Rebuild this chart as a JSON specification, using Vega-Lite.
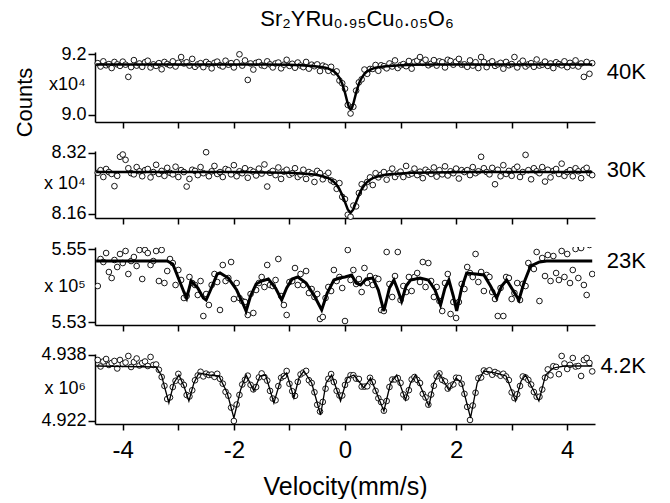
{
"$schema": "https://vega.github.io/schema/vega-lite/v6.json",
"padding": {"left": 13, "top": 8, "right": 5, "bottom": 0},
"title": {"text": "Sr₂YRu₀.₉₅Cu₀.₀₅O₆", "fontSize": 22, "fontWeight": "normal", "font": "Liberation Sans", "anchor": "middle", "frame": "group", "offset": 14, "dx": 12, "color": "black"},
"bounds": "flush",
"spacing": 29,
"datasets": {
"s40": [{"v":-4.45,"c":9.170},{"v":-4.4,"c":9.159},{"v":-4.35,"c":9.176},{"v":-4.3,"c":9.163},{"v":-4.25,"c":9.167},{"v":-4.2,"c":9.154},{"v":-4.15,"c":9.174},{"v":-4.1,"c":9.166},{"v":-4.05,"c":9.161},{"v":-4,"c":9.175},{"v":-3.95,"c":9.165},{"v":-3.9,"c":9.125},{"v":-3.85,"c":9.157},{"v":-3.8,"c":9.180},{"v":-3.75,"c":9.162},{"v":-3.7,"c":9.169},{"v":-3.65,"c":9.158},{"v":-3.6,"c":9.173},{"v":-3.55,"c":9.178},{"v":-3.5,"c":9.156},{"v":-3.45,"c":9.166},{"v":-3.4,"c":9.161},{"v":-3.35,"c":9.170},{"v":-3.3,"c":9.150},{"v":-3.25,"c":9.174},{"v":-3.2,"c":9.167},{"v":-3.15,"c":9.163},{"v":-3.1,"c":9.176},{"v":-3.05,"c":9.159},{"v":-3,"c":9.171},{"v":-2.95,"c":9.190},{"v":-2.9,"c":9.169},{"v":-2.85,"c":9.173},{"v":-2.8,"c":9.162},{"v":-2.75,"c":9.184},{"v":-2.7,"c":9.158},{"v":-2.65,"c":9.166},{"v":-2.6,"c":9.170},{"v":-2.55,"c":9.157},{"v":-2.5,"c":9.174},{"v":-2.45,"c":9.167},{"v":-2.4,"c":9.153},{"v":-2.35,"c":9.171},{"v":-2.3,"c":9.175},{"v":-2.25,"c":9.163},{"v":-2.2,"c":9.159},{"v":-2.15,"c":9.178},{"v":-2.1,"c":9.165},{"v":-2.05,"c":9.170},{"v":-2,"c":9.156},{"v":-1.95,"c":9.173},{"v":-1.9,"c":9.199},{"v":-1.85,"c":9.162},{"v":-1.8,"c":9.179},{"v":-1.75,"c":9.115},{"v":-1.7,"c":9.169},{"v":-1.65,"c":9.149},{"v":-1.6,"c":9.171},{"v":-1.55,"c":9.174},{"v":-1.5,"c":9.163},{"v":-1.45,"c":9.161},{"v":-1.4,"c":9.176},{"v":-1.35,"c":9.166},{"v":-1.3,"c":9.156},{"v":-1.25,"c":9.169},{"v":-1.2,"c":9.172},{"v":-1.15,"c":9.153},{"v":-1.1,"c":9.165},{"v":-1.05,"c":9.181},{"v":-1,"c":9.161},{"v":-0.95,"c":9.168},{"v":-0.9,"c":9.155},{"v":-0.85,"c":9.172},{"v":-0.8,"c":9.162},{"v":-0.75,"c":9.157},{"v":-0.7,"c":9.174},{"v":-0.65,"c":9.152},{"v":-0.6,"c":9.165},{"v":-0.55,"c":9.160},{"v":-0.5,"c":9.166},{"v":-0.45,"c":9.144},{"v":-0.4,"c":9.162},{"v":-0.35,"c":9.158},{"v":-0.3,"c":9.145},{"v":-0.25,"c":9.158},{"v":-0.2,"c":9.140},{"v":-0.15,"c":9.143},{"v":-0.1,"c":9.113},{"v":-0.05,"c":9.104},{"v":0,"c":9.086},{"v":0.05,"c":9.033},{"v":0.1,"c":9.005},{"v":0.15,"c":9.027},{"v":0.2,"c":9.080},{"v":0.25,"c":9.107},{"v":0.3,"c":9.117},{"v":0.35,"c":9.149},{"v":0.4,"c":9.135},{"v":0.45,"c":9.151},{"v":0.5,"c":9.151},{"v":0.55,"c":9.164},{"v":0.6,"c":9.145},{"v":0.65,"c":9.163},{"v":0.7,"c":9.160},{"v":0.75,"c":9.153},{"v":0.8,"c":9.169},{"v":0.85,"c":9.159},{"v":0.9,"c":9.179},{"v":0.95,"c":9.154},{"v":1,"c":9.163},{"v":1.05,"c":9.167},{"v":1.1,"c":9.160},{"v":1.15,"c":9.177},{"v":1.2,"c":9.152},{"v":1.25,"c":9.174},{"v":1.3,"c":9.178},{"v":1.35,"c":9.190},{"v":1.4,"c":9.171},{"v":1.45,"c":9.181},{"v":1.5,"c":9.163},{"v":1.55,"c":9.168},{"v":1.6,"c":9.180},{"v":1.65,"c":9.162},{"v":1.7,"c":9.176},{"v":1.75,"c":9.173},{"v":1.8,"c":9.156},{"v":1.85,"c":9.181},{"v":1.9,"c":9.177},{"v":1.95,"c":9.165},{"v":2,"c":9.175},{"v":2.05,"c":9.184},{"v":2.1,"c":9.165},{"v":2.15,"c":9.166},{"v":2.2,"c":9.158},{"v":2.25,"c":9.179},{"v":2.3,"c":9.162},{"v":2.35,"c":9.173},{"v":2.4,"c":9.154},{"v":2.45,"c":9.190},{"v":2.5,"c":9.174},{"v":2.55,"c":9.157},{"v":2.6,"c":9.170},{"v":2.65,"c":9.176},{"v":2.7,"c":9.161},{"v":2.75,"c":9.166},{"v":2.8,"c":9.171},{"v":2.85,"c":9.152},{"v":2.9,"c":9.174},{"v":2.95,"c":9.163},{"v":3,"c":9.167},{"v":3.05,"c":9.190},{"v":3.1,"c":9.156},{"v":3.15,"c":9.169},{"v":3.2,"c":9.178},{"v":3.25,"c":9.159},{"v":3.3,"c":9.166},{"v":3.35,"c":9.170},{"v":3.4,"c":9.158},{"v":3.45,"c":9.182},{"v":3.5,"c":9.162},{"v":3.55,"c":9.165},{"v":3.6,"c":9.175},{"v":3.65,"c":9.161},{"v":3.7,"c":9.169},{"v":3.75,"c":9.154},{"v":3.8,"c":9.173},{"v":3.85,"c":9.167},{"v":3.9,"c":9.163},{"v":3.95,"c":9.176},{"v":4,"c":9.157},{"v":4.05,"c":9.171},{"v":4.1,"c":9.162},{"v":4.15,"c":9.179},{"v":4.2,"c":9.159},{"v":4.25,"c":9.169},{"v":4.3,"c":9.125},{"v":4.35,"c":9.174},{"v":4.4,"c":9.135},{"v":4.45,"c":9.170}],
"f40": [{"v":-4.48,"c":9.166},{"v":-1.45,"c":9.166},{"v":-1.0,"c":9.165},{"v":-0.8,"c":9.163},{"v":-0.6,"c":9.161},{"v":-0.5,"c":9.159},{"v":-0.4,"c":9.157},{"v":-0.35,"c":9.155},{"v":-0.3,"c":9.152},{"v":-0.25,"c":9.148},{"v":-0.2,"c":9.143},{"v":-0.15,"c":9.135},{"v":-0.1,"c":9.122},{"v":-0.05,"c":9.103},{"v":0,"c":9.073},{"v":0.05,"c":9.037},{"v":0.075,"c":9.023},{"v":0.1,"c":9.018},{"v":0.125,"c":9.023},{"v":0.15,"c":9.037},{"v":0.2,"c":9.073},{"v":0.25,"c":9.103},{"v":0.3,"c":9.122},{"v":0.35,"c":9.135},{"v":0.4,"c":9.143},{"v":0.45,"c":9.148},{"v":0.5,"c":9.152},{"v":0.55,"c":9.155},{"v":0.6,"c":9.157},{"v":0.7,"c":9.159},{"v":0.8,"c":9.161},{"v":1.0,"c":9.163},{"v":1.2,"c":9.165},{"v":1.65,"c":9.166},{"v":4.45,"c":9.166}],
"s30": [{"v":-4.45,"c":8.268},{"v":-4.4,"c":8.275},{"v":-4.35,"c":8.257},{"v":-4.3,"c":8.278},{"v":-4.25,"c":8.270},{"v":-4.2,"c":8.265},{"v":-4.15,"c":8.233},{"v":-4.1,"c":8.260},{"v":-4.05,"c":8.310},{"v":-4,"c":8.316},{"v":-3.95,"c":8.302},{"v":-3.9,"c":8.280},{"v":-3.85,"c":8.267},{"v":-3.8,"c":8.264},{"v":-3.75,"c":8.283},{"v":-3.7,"c":8.272},{"v":-3.65,"c":8.259},{"v":-3.6,"c":8.275},{"v":-3.55,"c":8.278},{"v":-3.5,"c":8.256},{"v":-3.45,"c":8.270},{"v":-3.4,"c":8.289},{"v":-3.35,"c":8.265},{"v":-3.3,"c":8.273},{"v":-3.25,"c":8.260},{"v":-3.2,"c":8.281},{"v":-3.15,"c":8.268},{"v":-3.1,"c":8.264},{"v":-3.05,"c":8.284},{"v":-3,"c":8.257},{"v":-2.95,"c":8.275},{"v":-2.9,"c":8.270},{"v":-2.85,"c":8.232},{"v":-2.8,"c":8.252},{"v":-2.75,"c":8.276},{"v":-2.7,"c":8.273},{"v":-2.65,"c":8.262},{"v":-2.6,"c":8.283},{"v":-2.55,"c":8.267},{"v":-2.5,"c":8.322},{"v":-2.45,"c":8.259},{"v":-2.4,"c":8.272},{"v":-2.35,"c":8.286},{"v":-2.3,"c":8.265},{"v":-2.25,"c":8.270},{"v":-2.2,"c":8.257},{"v":-2.15,"c":8.278},{"v":-2.1,"c":8.275},{"v":-2.05,"c":8.264},{"v":-2,"c":8.288},{"v":-1.95,"c":8.259},{"v":-1.9,"c":8.272},{"v":-1.85,"c":8.267},{"v":-1.8,"c":8.280},{"v":-1.75,"c":8.255},{"v":-1.7,"c":8.275},{"v":-1.65,"c":8.271},{"v":-1.6,"c":8.261},{"v":-1.55,"c":8.279},{"v":-1.5,"c":8.266},{"v":-1.45,"c":8.290},{"v":-1.4,"c":8.232},{"v":-1.35,"c":8.268},{"v":-1.3,"c":8.273},{"v":-1.25,"c":8.262},{"v":-1.2,"c":8.282},{"v":-1.15,"c":8.252},{"v":-1.1,"c":8.271},{"v":-1.05,"c":8.276},{"v":-1,"c":8.263},{"v":-0.95,"c":8.267},{"v":-0.9,"c":8.280},{"v":-0.85,"c":8.257},{"v":-0.8,"c":8.263},{"v":-0.75,"c":8.276},{"v":-0.7,"c":8.252},{"v":-0.65,"c":8.270},{"v":-0.6,"c":8.266},{"v":-0.55,"c":8.244},{"v":-0.5,"c":8.273},{"v":-0.45,"c":8.267},{"v":-0.4,"c":8.251},{"v":-0.35,"c":8.260},{"v":-0.3,"c":8.268},{"v":-0.25,"c":8.248},{"v":-0.2,"c":8.244},{"v":-0.15,"c":8.226},{"v":-0.1,"c":8.241},{"v":-0.05,"c":8.205},{"v":0,"c":8.199},{"v":0.05,"c":8.158},{"v":0.1,"c":8.153},{"v":0.15,"c":8.182},{"v":0.2,"c":8.180},{"v":0.25,"c":8.215},{"v":0.3,"c":8.238},{"v":0.35,"c":8.230},{"v":0.4,"c":8.244},{"v":0.45,"c":8.256},{"v":0.5,"c":8.236},{"v":0.55,"c":8.267},{"v":0.6,"c":8.256},{"v":0.65,"c":8.263},{"v":0.7,"c":8.270},{"v":0.75,"c":8.250},{"v":0.8,"c":8.267},{"v":0.85,"c":8.279},{"v":0.9,"c":8.257},{"v":0.95,"c":8.266},{"v":1,"c":8.271},{"v":1.05,"c":8.257},{"v":1.1,"c":8.286},{"v":1.15,"c":8.263},{"v":1.2,"c":8.266},{"v":1.25,"c":8.279},{"v":1.3,"c":8.262},{"v":1.35,"c":8.271},{"v":1.4,"c":8.254},{"v":1.45,"c":8.276},{"v":1.5,"c":8.270},{"v":1.55,"c":8.265},{"v":1.6,"c":8.282},{"v":1.65,"c":8.258},{"v":1.7,"c":8.275},{"v":1.75,"c":8.264},{"v":1.8,"c":8.285},{"v":1.85,"c":8.261},{"v":1.9,"c":8.272},{"v":1.95,"c":8.267},{"v":2,"c":8.279},{"v":2.05,"c":8.253},{"v":2.1,"c":8.275},{"v":2.15,"c":8.270},{"v":2.2,"c":8.275},{"v":2.25,"c":8.262},{"v":2.3,"c":8.283},{"v":2.35,"c":8.267},{"v":2.4,"c":8.272},{"v":2.45,"c":8.310},{"v":2.5,"c":8.280},{"v":2.55,"c":8.270},{"v":2.6,"c":8.264},{"v":2.65,"c":8.281},{"v":2.7,"c":8.238},{"v":2.75,"c":8.276},{"v":2.8,"c":8.259},{"v":2.85,"c":8.288},{"v":2.9,"c":8.265},{"v":2.95,"c":8.273},{"v":3,"c":8.260},{"v":3.05,"c":8.278},{"v":3.1,"c":8.284},{"v":3.15,"c":8.257},{"v":3.2,"c":8.270},{"v":3.25,"c":8.315},{"v":3.3,"c":8.275},{"v":3.35,"c":8.251},{"v":3.4,"c":8.280},{"v":3.45,"c":8.272},{"v":3.5,"c":8.267},{"v":3.55,"c":8.283},{"v":3.6,"c":8.245},{"v":3.65,"c":8.276},{"v":3.7,"c":8.256},{"v":3.75,"c":8.273},{"v":3.8,"c":8.278},{"v":3.85,"c":8.265},{"v":3.9,"c":8.292},{"v":3.95,"c":8.260},{"v":4,"c":8.270},{"v":4.05,"c":8.275},{"v":4.1,"c":8.259},{"v":4.15,"c":8.280},{"v":4.2,"c":8.272},{"v":4.25,"c":8.254},{"v":4.3,"c":8.276},{"v":4.35,"c":8.281},{"v":4.4,"c":8.267},{"v":4.45,"c":8.262}],
"f30": [{"v":-4.48,"c":8.270},{"v":-2.0,"c":8.270},{"v":-1.4,"c":8.269},{"v":-1.0,"c":8.268},{"v":-0.8,"c":8.266},{"v":-0.6,"c":8.264},{"v":-0.5,"c":8.262},{"v":-0.4,"c":8.259},{"v":-0.3,"c":8.254},{"v":-0.25,"c":8.250},{"v":-0.2,"c":8.244},{"v":-0.15,"c":8.236},{"v":-0.1,"c":8.225},{"v":-0.05,"c":8.210},{"v":0,"c":8.191},{"v":0.05,"c":8.172},{"v":0.1,"c":8.163},{"v":0.15,"c":8.172},{"v":0.2,"c":8.191},{"v":0.25,"c":8.210},{"v":0.3,"c":8.225},{"v":0.35,"c":8.236},{"v":0.4,"c":8.244},{"v":0.45,"c":8.250},{"v":0.5,"c":8.254},{"v":0.6,"c":8.259},{"v":0.7,"c":8.262},{"v":0.8,"c":8.264},{"v":1.0,"c":8.266},{"v":1.2,"c":8.268},{"v":1.6,"c":8.269},{"v":2.2,"c":8.270},{"v":4.45,"c":8.270}],
"s23": [{"v":-4.45,"c":5.53986},{"v":-4.4,"c":5.54726},{"v":-4.35,"c":5.54644},{"v":-4.3,"c":5.54890},{"v":-4.25,"c":5.54370},{"v":-4.2,"c":5.54205},{"v":-4.15,"c":5.54699},{"v":-4.1,"c":5.54507},{"v":-4.05,"c":5.54863},{"v":-4,"c":5.54616},{"v":-3.95,"c":5.54945},{"v":-3.9,"c":5.54315},{"v":-3.85,"c":5.54671},{"v":-3.8,"c":5.54781},{"v":-3.75,"c":5.54534},{"v":-3.7,"c":5.54973},{"v":-3.65,"c":5.54178},{"v":-3.6,"c":5.54973},{"v":-3.55,"c":5.54890},{"v":-3.5,"c":5.54562},{"v":-3.45,"c":5.54671},{"v":-3.4,"c":5.54945},{"v":-3.35,"c":5.54123},{"v":-3.3,"c":5.54973},{"v":-3.25,"c":5.54068},{"v":-3.2,"c":5.54397},{"v":-3.15,"c":5.54726},{"v":-3.1,"c":5.54616},{"v":-3.05,"c":5.54014},{"v":-3,"c":5.54425},{"v":-2.95,"c":5.54151},{"v":-2.9,"c":5.53658},{"v":-2.85,"c":5.53712},{"v":-2.8,"c":5.54233},{"v":-2.75,"c":5.54068},{"v":-2.7,"c":5.54014},{"v":-2.65,"c":5.53740},{"v":-2.6,"c":5.54123},{"v":-2.55,"c":5.53164},{"v":-2.5,"c":5.53767},{"v":-2.45,"c":5.53466},{"v":-2.4,"c":5.54014},{"v":-2.35,"c":5.54315},{"v":-2.3,"c":5.54096},{"v":-2.25,"c":5.53329},{"v":-2.2,"c":5.54562},{"v":-2.15,"c":5.54123},{"v":-2.1,"c":5.54205},{"v":-2.05,"c":5.54644},{"v":-2,"c":5.53630},{"v":-1.95,"c":5.54068},{"v":-1.9,"c":5.53658},{"v":-1.85,"c":5.53575},{"v":-1.8,"c":5.53548},{"v":-1.75,"c":5.53192},{"v":-1.7,"c":5.53767},{"v":-1.65,"c":5.53247},{"v":-1.6,"c":5.53877},{"v":-1.55,"c":5.54068},{"v":-1.5,"c":5.54233},{"v":-1.45,"c":5.53959},{"v":-1.4,"c":5.54562},{"v":-1.35,"c":5.54014},{"v":-1.3,"c":5.53986},{"v":-1.25,"c":5.54151},{"v":-1.2,"c":5.54726},{"v":-1.15,"c":5.53712},{"v":-1.1,"c":5.53466},{"v":-1.05,"c":5.53192},{"v":-1,"c":5.54096},{"v":-0.95,"c":5.54123},{"v":-0.9,"c":5.54479},{"v":-0.85,"c":5.54014},{"v":-0.8,"c":5.54315},{"v":-0.75,"c":5.54014},{"v":-0.7,"c":5.54397},{"v":-0.65,"c":5.53795},{"v":-0.6,"c":5.53904},{"v":-0.55,"c":5.53685},{"v":-0.5,"c":5.53767},{"v":-0.45,"c":5.53082},{"v":-0.4,"c":5.53137},{"v":-0.35,"c":5.53658},{"v":-0.3,"c":5.53959},{"v":-0.25,"c":5.53849},{"v":-0.2,"c":5.54425},{"v":-0.15,"c":5.54123},{"v":-0.1,"c":5.54233},{"v":-0.05,"c":5.53932},{"v":0,"c":5.53027},{"v":0.05,"c":5.54973},{"v":0.1,"c":5.54151},{"v":0.15,"c":5.54425},{"v":0.2,"c":5.54041},{"v":0.25,"c":5.54178},{"v":0.3,"c":5.53822},{"v":0.35,"c":5.54479},{"v":0.4,"c":5.54068},{"v":0.45,"c":5.54260},{"v":0.5,"c":5.54014},{"v":0.55,"c":5.54205},{"v":0.6,"c":5.54178},{"v":0.65,"c":5.53329},{"v":0.7,"c":5.53301},{"v":0.75,"c":5.54918},{"v":0.8,"c":5.54041},{"v":0.85,"c":5.53685},{"v":0.9,"c":5.54260},{"v":0.95,"c":5.54918},{"v":1,"c":5.53603},{"v":1.05,"c":5.53986},{"v":1.1,"c":5.53822},{"v":1.15,"c":5.54233},{"v":1.2,"c":5.53849},{"v":1.25,"c":5.54233},{"v":1.3,"c":5.54342},{"v":1.35,"c":5.54096},{"v":1.4,"c":5.54644},{"v":1.45,"c":5.53959},{"v":1.5,"c":5.54616},{"v":1.55,"c":5.54123},{"v":1.6,"c":5.53685},{"v":1.65,"c":5.53959},{"v":1.7,"c":5.53575},{"v":1.75,"c":5.53301},{"v":1.8,"c":5.54068},{"v":1.85,"c":5.54315},{"v":1.9,"c":5.53219},{"v":1.95,"c":5.53548},{"v":2,"c":5.53110},{"v":2.05,"c":5.53548},{"v":2.1,"c":5.54041},{"v":2.15,"c":5.53904},{"v":2.2,"c":5.54507},{"v":2.25,"c":5.54342},{"v":2.3,"c":5.54233},{"v":2.35,"c":5.54863},{"v":2.4,"c":5.54096},{"v":2.45,"c":5.54370},{"v":2.5,"c":5.53849},{"v":2.55,"c":5.54288},{"v":2.6,"c":5.54233},{"v":2.65,"c":5.53822},{"v":2.7,"c":5.53630},{"v":2.75,"c":5.53164},{"v":2.8,"c":5.53932},{"v":2.85,"c":5.53164},{"v":2.9,"c":5.54233},{"v":2.95,"c":5.54205},{"v":3,"c":5.53630},{"v":3.05,"c":5.53795},{"v":3.1,"c":5.54068},{"v":3.15,"c":5.53603},{"v":3.2,"c":5.54041},{"v":3.25,"c":5.53986},{"v":3.3,"c":5.54616},{"v":3.35,"c":5.54507},{"v":3.4,"c":5.54452},{"v":3.45,"c":5.54918},{"v":3.5,"c":5.53575},{"v":3.55,"c":5.54753},{"v":3.6,"c":5.54260},{"v":3.65,"c":5.54836},{"v":3.7,"c":5.54123},{"v":3.75,"c":5.54808},{"v":3.8,"c":5.54342},{"v":3.85,"c":5.54151},{"v":3.9,"c":5.54945},{"v":3.95,"c":5.54233},{"v":4,"c":5.54863},{"v":4.05,"c":5.54068},{"v":4.1,"c":5.54425},{"v":4.15,"c":5.55000},{"v":4.2,"c":5.54205},{"v":4.25,"c":5.55027},{"v":4.3,"c":5.54014},{"v":4.35,"c":5.53740},{"v":4.4,"c":5.55110},{"v":4.45,"c":5.54315}],
"f23": [{"v":-4.48,"c":5.54671},{"v":-3.2,"c":5.54671},{"v":-3.1,"c":5.54589},{"v":-3.0,"c":5.54205},{"v":-2.9,"c":5.53822},{"v":-2.85,"c":5.53658},{"v":-2.77,"c":5.54123},{"v":-2.65,"c":5.53932},{"v":-2.55,"c":5.53658},{"v":-2.5,"c":5.53603},{"v":-2.42,"c":5.53877},{"v":-2.3,"c":5.54315},{"v":-2.25,"c":5.54342},{"v":-2.1,"c":5.54205},{"v":-1.95,"c":5.53877},{"v":-1.85,"c":5.53548},{"v":-1.78,"c":5.53301},{"v":-1.7,"c":5.53712},{"v":-1.6,"c":5.54041},{"v":-1.5,"c":5.54123},{"v":-1.38,"c":5.54178},{"v":-1.25,"c":5.53932},{"v":-1.14,"c":5.53603},{"v":-1.05,"c":5.53932},{"v":-0.95,"c":5.54178},{"v":-0.85,"c":5.54233},{"v":-0.7,"c":5.54068},{"v":-0.55,"c":5.53712},{"v":-0.42,"c":5.53329},{"v":-0.32,"c":5.53795},{"v":-0.2,"c":5.54151},{"v":-0.1,"c":5.54205},{"v":0,"c":5.54233},{"v":0.12,"c":5.54288},{"v":0.2,"c":5.54068},{"v":0.28,"c":5.54014},{"v":0.38,"c":5.54178},{"v":0.5,"c":5.54205},{"v":0.6,"c":5.53877},{"v":0.7,"c":5.53301},{"v":0.8,"c":5.53932},{"v":0.88,"c":5.54151},{"v":0.95,"c":5.53877},{"v":1.02,"c":5.53575},{"v":1.1,"c":5.53986},{"v":1.18,"c":5.54151},{"v":1.35,"c":5.54205},{"v":1.5,"c":5.54151},{"v":1.62,"c":5.53877},{"v":1.72,"c":5.53466},{"v":1.8,"c":5.53932},{"v":1.87,"c":5.54151},{"v":1.95,"c":5.53712},{"v":2.01,"c":5.53301},{"v":2.1,"c":5.53932},{"v":2.19,"c":5.54342},{"v":2.35,"c":5.54315},{"v":2.5,"c":5.54288},{"v":2.62,"c":5.53986},{"v":2.73,"c":5.53658},{"v":2.82,"c":5.53986},{"v":2.91,"c":5.54151},{"v":3.02,"c":5.53877},{"v":3.13,"c":5.53603},{"v":3.22,"c":5.54068},{"v":3.34,"c":5.54534},{"v":3.5,"c":5.54644},{"v":3.63,"c":5.54671},{"v":4.45,"c":5.54671}],
"s4": [{"v":-4.45,"c":4.93679},{"v":-4.4,"c":4.93521},{"v":-4.35,"c":4.93642},{"v":-4.3,"c":4.93703},{"v":-4.25,"c":4.93558},{"v":-4.2,"c":4.93606},{"v":-4.15,"c":4.93655},{"v":-4.1,"c":4.93473},{"v":-4.05,"c":4.93679},{"v":-4,"c":4.93582},{"v":-3.95,"c":4.93618},{"v":-3.9,"c":4.93776},{"v":-3.85,"c":4.93509},{"v":-3.8,"c":4.93630},{"v":-3.75,"c":4.93715},{"v":-3.7,"c":4.93545},{"v":-3.65,"c":4.93606},{"v":-3.6,"c":4.93642},{"v":-3.55,"c":4.93533},{"v":-3.5,"c":4.93752},{"v":-3.45,"c":4.93558},{"v":-3.4,"c":4.93570},{"v":-3.35,"c":4.93442},{"v":-3.3,"c":4.93267},{"v":-3.25,"c":4.93051},{"v":-3.2,"c":4.92733},{"v":-3.15,"c":4.92772},{"v":-3.1,"c":4.93022},{"v":-3.05,"c":4.93175},{"v":-3,"c":4.93342},{"v":-2.95,"c":4.93155},{"v":-2.9,"c":4.93073},{"v":-2.85,"c":4.92830},{"v":-2.8,"c":4.92794},{"v":-2.75,"c":4.92945},{"v":-2.7,"c":4.93187},{"v":-2.65,"c":4.93304},{"v":-2.6,"c":4.93393},{"v":-2.55,"c":4.93281},{"v":-2.5,"c":4.93348},{"v":-2.45,"c":4.93315},{"v":-2.4,"c":4.93326},{"v":-2.35,"c":4.93270},{"v":-2.3,"c":4.93344},{"v":-2.25,"c":4.93223},{"v":-2.2,"c":4.93105},{"v":-2.15,"c":4.92907},{"v":-2.1,"c":4.92813},{"v":-2.05,"c":4.92525},{"v":-2,"c":4.92200},{"v":-1.95,"c":4.92599},{"v":-1.9,"c":4.92832},{"v":-1.85,"c":4.93085},{"v":-1.8,"c":4.93200},{"v":-1.75,"c":4.93299},{"v":-1.7,"c":4.93076},{"v":-1.65,"c":4.92966},{"v":-1.6,"c":4.93024},{"v":-1.55,"c":4.93256},{"v":-1.5,"c":4.93353},{"v":-1.45,"c":4.93262},{"v":-1.4,"c":4.93179},{"v":-1.35,"c":4.92930},{"v":-1.3,"c":4.92744},{"v":-1.25,"c":4.92704},{"v":-1.2,"c":4.93046},{"v":-1.15,"c":4.93249},{"v":-1.1,"c":4.93291},{"v":-1.05,"c":4.93412},{"v":-1,"c":4.93101},{"v":-0.95,"c":4.92922},{"v":-0.9,"c":4.92810},{"v":-0.85,"c":4.93148},{"v":-0.8,"c":4.93329},{"v":-0.75,"c":4.93375},{"v":-0.7,"c":4.93415},{"v":-0.65,"c":4.93189},{"v":-0.6,"c":4.93121},{"v":-0.55,"c":4.92897},{"v":-0.5,"c":4.92594},{"v":-0.45,"c":4.92430},{"v":-0.4,"c":4.92662},{"v":-0.35,"c":4.92983},{"v":-0.3,"c":4.93223},{"v":-0.25,"c":4.93338},{"v":-0.2,"c":4.93145},{"v":-0.15,"c":4.92931},{"v":-0.1,"c":4.92818},{"v":-0.05,"c":4.92818},{"v":0,"c":4.93074},{"v":0.05,"c":4.93200},{"v":0.1,"c":4.93309},{"v":0.15,"c":4.93309},{"v":0.2,"c":4.93227},{"v":0.25,"c":4.93218},{"v":0.3,"c":4.93034},{"v":0.35,"c":4.93032},{"v":0.4,"c":4.93042},{"v":0.45,"c":4.93247},{"v":0.5,"c":4.93145},{"v":0.55,"c":4.92930},{"v":0.6,"c":4.92752},{"v":0.65,"c":4.92658},{"v":0.7,"c":4.92449},{"v":0.75,"c":4.92684},{"v":0.8,"c":4.93025},{"v":0.85,"c":4.93205},{"v":0.9,"c":4.93207},{"v":0.95,"c":4.93240},{"v":1,"c":4.93124},{"v":1.05,"c":4.92842},{"v":1.1,"c":4.92767},{"v":1.15,"c":4.92947},{"v":1.2,"c":4.93207},{"v":1.25,"c":4.93265},{"v":1.3,"c":4.93196},{"v":1.35,"c":4.93120},{"v":1.4,"c":4.92859},{"v":1.45,"c":4.92770},{"v":1.5,"c":4.92595},{"v":1.55,"c":4.92841},{"v":1.6,"c":4.93055},{"v":1.65,"c":4.93281},{"v":1.7,"c":4.93354},{"v":1.75,"c":4.93195},{"v":1.8,"c":4.93160},{"v":1.85,"c":4.92985},{"v":1.9,"c":4.93056},{"v":1.95,"c":4.93088},{"v":2,"c":4.93249},{"v":2.05,"c":4.93242},{"v":2.1,"c":4.93103},{"v":2.15,"c":4.92857},{"v":2.2,"c":4.92542},{"v":2.25,"c":4.92224},{"v":2.3,"c":4.92575},{"v":2.35,"c":4.92885},{"v":2.4,"c":4.93236},{"v":2.45,"c":4.93255},{"v":2.5,"c":4.93424},{"v":2.55,"c":4.93394},{"v":2.6,"c":4.93430},{"v":2.65,"c":4.93321},{"v":2.7,"c":4.93388},{"v":2.75,"c":4.93352},{"v":2.8,"c":4.93297},{"v":2.85,"c":4.93345},{"v":2.9,"c":4.93279},{"v":2.95,"c":4.93190},{"v":3,"c":4.92892},{"v":3.05,"c":4.92755},{"v":3.1,"c":4.92849},{"v":3.15,"c":4.93049},{"v":3.2,"c":4.93279},{"v":3.25,"c":4.93255},{"v":3.3,"c":4.93196},{"v":3.35,"c":4.93084},{"v":3.4,"c":4.92903},{"v":3.45,"c":4.92789},{"v":3.5,"c":4.92787},{"v":3.55,"c":4.92964},{"v":3.6,"c":4.93250},{"v":3.65,"c":4.93451},{"v":3.7,"c":4.93308},{"v":3.75,"c":4.93528},{"v":3.8,"c":4.93512},{"v":3.85,"c":4.93335},{"v":3.9,"c":4.93776},{"v":3.95,"c":4.93592},{"v":4,"c":4.93461},{"v":4.05,"c":4.93562},{"v":4.1,"c":4.93727},{"v":4.15,"c":4.93519},{"v":4.2,"c":4.93533},{"v":4.25,"c":4.93291},{"v":4.3,"c":4.93679},{"v":4.35,"c":4.93727},{"v":4.4,"c":4.93606},{"v":4.45,"c":4.93402}],
"f4": [{"v":-4.48,"c":4.93533},{"v":-3.4,"c":4.93509},{"v":-3.3,"c":4.93291},{"v":-3.17,"c":4.92636},{"v":-3.08,"c":4.93121},{"v":-2.99,"c":4.93315},{"v":-2.9,"c":4.93048},{"v":-2.81,"c":4.92685},{"v":-2.72,"c":4.93121},{"v":-2.63,"c":4.93364},{"v":-2.45,"c":4.93315},{"v":-2.27,"c":4.93291},{"v":-2.12,"c":4.92879},{"v":-2.0,"c":4.92273},{"v":-1.88,"c":4.92952},{"v":-1.78,"c":4.93315},{"v":-1.64,"c":4.92927},{"v":-1.53,"c":4.93291},{"v":-1.43,"c":4.93315},{"v":-1.28,"c":4.92636},{"v":-1.15,"c":4.93242},{"v":-1.05,"c":4.93364},{"v":-0.92,"c":4.92758},{"v":-0.83,"c":4.93242},{"v":-0.74,"c":4.93412},{"v":-0.6,"c":4.93121},{"v":-0.44,"c":4.92345},{"v":-0.34,"c":4.93121},{"v":-0.24,"c":4.93315},{"v":-0.08,"c":4.92685},{"v":0.04,"c":4.93242},{"v":0.16,"c":4.93315},{"v":0.34,"c":4.93000},{"v":0.46,"c":4.93242},{"v":0.7,"c":4.92442},{"v":0.82,"c":4.93121},{"v":0.93,"c":4.93315},{"v":1.09,"c":4.92709},{"v":1.18,"c":4.93121},{"v":1.27,"c":4.93315},{"v":1.51,"c":4.92564},{"v":1.6,"c":4.93121},{"v":1.69,"c":4.93364},{"v":1.87,"c":4.92952},{"v":2.0,"c":4.93242},{"v":2.1,"c":4.93121},{"v":2.26,"c":4.92273},{"v":2.38,"c":4.93121},{"v":2.5,"c":4.93412},{"v":2.7,"c":4.93364},{"v":2.9,"c":4.93291},{"v":3.07,"c":4.92685},{"v":3.17,"c":4.93170},{"v":3.25,"c":4.93315},{"v":3.49,"c":4.92685},{"v":3.61,"c":4.93315},{"v":3.75,"c":4.93485},{"v":3.95,"c":4.93533},{"v":4.45,"c":4.93533}]
},
"vconcat": [
{"width": 500, "height": 70,
 "layer": [
  {"data": {"name": "s40"}, "mark": {"type": "point", "shape": "circle", "filled": true, "fill": "white", "stroke": "black", "strokeWidth": 0.9, "size": 32, "opacity": 1},
   "encoding": {
    "x": {"field": "v", "type": "quantitative", "scale": {"domain": [-4.5, 4.5], "nice": false, "zero": false}, "axis": {"values": [-4,-3,-2,-1,0,1,2,3,4], "labels": false, "title": null, "tickSize": 6}},
    "y": {"field": "c", "type": "quantitative", "scale": {"domain": [8.977, 9.2066], "nice": false, "zero": false},
      "axis": {"values": [9, 9.05, 9.1, 9.15, 9.2], "labelExpr": "datum.value > 9.19 ? '9.2' : (datum.value < 9.01 ? '9.0' : '')", "labelFontSize": 18, "tickSize": 7, "labelPadding": 2,
        "title": "Counts", "titleFontSize": 22, "titleAngle": -90, "titleX": -71, "titleY": 50, "titleAlign": "center", "titleBaseline": "middle"}}}},
  {"data": {"name": "f40"}, "mark": {"type": "line", "color": "black", "strokeWidth": 2.5},
   "encoding": {"x": {"field": "v", "type": "quantitative"}, "y": {"field": "c", "type": "quantitative"}}},
  {"data": {"values": [{"v": 4.71, "c": 9.141, "t": "40K"}]}, "mark": {"type": "text", "align": "left", "baseline": "middle", "fontSize": 22, "font": "Liberation Sans", "color": "black"},
   "encoding": {"x": {"field": "v", "type": "quantitative"}, "y": {"field": "c", "type": "quantitative"}, "text": {"field": "t"}}},
  {"data": {"values": [{"v": -4.665, "c": 9.097, "t": "x10⁴"}]}, "mark": {"type": "text", "align": "right", "baseline": "middle", "fontSize": 18, "font": "Liberation Sans", "color": "black"},
   "encoding": {"x": {"field": "v", "type": "quantitative"}, "y": {"field": "c", "type": "quantitative"}, "text": {"field": "t"}}}
 ]},
{"width": 500, "height": 67,
 "layer": [
  {"data": {"name": "s30"}, "mark": {"type": "point", "shape": "circle", "filled": true, "fill": "white", "stroke": "black", "strokeWidth": 0.9, "size": 32, "opacity": 1},
   "encoding": {
    "x": {"field": "v", "type": "quantitative", "scale": {"domain": [-4.5, 4.5], "nice": false, "zero": false}, "axis": {"values": [-4,-3,-2,-1,0,1,2,3,4], "labels": false, "title": null, "tickSize": 6}},
    "y": {"field": "c", "type": "quantitative", "scale": {"domain": [8.1495, 8.3252], "nice": false, "zero": false},
      "axis": {"values": [8.16, 8.18, 8.2, 8.22, 8.24, 8.26, 8.28, 8.3, 8.32], "labelExpr": "datum.value > 8.31 ? '8.32' : (datum.value < 8.17 ? '8.16' : '')", "labelFontSize": 18, "tickSize": 7, "labelPadding": 2, "title": null}}}},
  {"data": {"name": "f30"}, "mark": {"type": "line", "color": "black", "strokeWidth": 2.5},
   "encoding": {"x": {"field": "v", "type": "quantitative"}, "y": {"field": "c", "type": "quantitative"}}},
  {"data": {"values": [{"v": 4.71, "c": 8.275, "t": "30K"}]}, "mark": {"type": "text", "align": "left", "baseline": "middle", "fontSize": 22, "font": "Liberation Sans", "color": "black"},
   "encoding": {"x": {"field": "v", "type": "quantitative"}, "y": {"field": "c", "type": "quantitative"}, "text": {"field": "t"}}},
  {"data": {"values": [{"v": -4.665, "c": 8.238, "t": "x 10⁴"}]}, "mark": {"type": "text", "align": "right", "baseline": "middle", "fontSize": 18, "font": "Liberation Sans", "color": "black"},
   "encoding": {"x": {"field": "v", "type": "quantitative"}, "y": {"field": "c", "type": "quantitative"}, "text": {"field": "t"}}}
 ]},
{"width": 500, "height": 78,
 "layer": [
  {"data": {"name": "s23"}, "mark": {"type": "point", "shape": "circle", "filled": true, "fill": "white", "stroke": "black", "strokeWidth": 0.9, "size": 32, "opacity": 1, "clip": true},
   "encoding": {
    "x": {"field": "v", "type": "quantitative", "scale": {"domain": [-4.5, 4.5], "nice": false, "zero": false}, "axis": {"values": [-4,-3,-2,-1,0,1,2,3,4], "labels": false, "title": null, "tickSize": 6}},
    "y": {"field": "c", "type": "quantitative", "scale": {"domain": [5.52918, 5.55055], "nice": false, "zero": false},
      "axis": {"values": [5.53, 5.532, 5.534, 5.536, 5.538, 5.54, 5.542, 5.544, 5.546, 5.548, 5.55], "labelExpr": "datum.value > 5.549 ? '5.55' : (datum.value < 5.531 ? '5.53' : '')", "labelFontSize": 18, "tickSize": 7, "labelPadding": 2, "title": null}}}},
  {"data": {"name": "f23"}, "mark": {"type": "line", "color": "black", "strokeWidth": 3},
   "encoding": {"x": {"field": "v", "type": "quantitative"}, "y": {"field": "c", "type": "quantitative"}}},
  {"data": {"values": [{"v": 4.71, "c": 5.5467, "t": "23K"}]}, "mark": {"type": "text", "align": "left", "baseline": "middle", "fontSize": 22, "font": "Liberation Sans", "color": "black"},
   "encoding": {"x": {"field": "v", "type": "quantitative"}, "y": {"field": "c", "type": "quantitative"}, "text": {"field": "t"}}},
  {"data": {"values": [{"v": -4.665, "c": 5.5397, "t": "x 10⁵"}]}, "mark": {"type": "text", "align": "right", "baseline": "middle", "fontSize": 18, "font": "Liberation Sans", "color": "black"},
   "encoding": {"x": {"field": "v", "type": "quantitative"}, "y": {"field": "c", "type": "quantitative"}, "text": {"field": "t"}}}
 ]},
{"width": 500, "height": 70,
 "layer": [
  {"data": {"name": "s4"}, "mark": {"type": "point", "shape": "circle", "filled": true, "fill": "white", "stroke": "black", "strokeWidth": 0.9, "size": 32, "opacity": 1},
   "encoding": {
    "x": {"field": "v", "type": "quantitative", "scale": {"domain": [-4.5, 4.5], "nice": false, "zero": false},
      "axis": {"values": [-4,-3,-2,-1,0,1,2,3,4], "labelExpr": "datum.value % 2 == 0 ? toString(datum.value) : ''", "labelFontSize": 24, "labelPadding": 8, "tickSize": 6, "title": "Velocity(mm/s)", "titleFontSize": 25, "titlePadding": 12}},
    "y": {"field": "c", "type": "quantitative", "scale": {"domain": [4.92127, 4.93824], "nice": false, "zero": false},
      "axis": {"values": [4.922, 4.924, 4.926, 4.928, 4.93, 4.932, 4.934, 4.936, 4.938], "labelExpr": "datum.value > 4.937 ? '4.938' : (datum.value < 4.923 ? '4.922' : '')", "labelFontSize": 18, "tickSize": 7, "labelPadding": 2, "title": null}}}},
  {"data": {"name": "f4"}, "mark": {"type": "line", "color": "black", "strokeWidth": 1.3},
   "encoding": {"x": {"field": "v", "type": "quantitative"}, "y": {"field": "c", "type": "quantitative"}}},
  {"data": {"values": [{"v": 4.6, "c": 4.9353, "t": "4.2K"}]}, "mark": {"type": "text", "align": "left", "baseline": "middle", "fontSize": 22, "font": "Liberation Sans", "color": "black"},
   "encoding": {"x": {"field": "v", "type": "quantitative"}, "y": {"field": "c", "type": "quantitative"}, "text": {"field": "t"}}},
  {"data": {"values": [{"v": -4.665, "c": 4.9298, "t": "x 10⁶"}]}, "mark": {"type": "text", "align": "right", "baseline": "middle", "fontSize": 18, "font": "Liberation Sans", "color": "black"},
   "encoding": {"x": {"field": "v", "type": "quantitative"}, "y": {"field": "c", "type": "quantitative"}, "text": {"field": "t"}}}
 ]}
],
"config": {
 "view": {"stroke": null},
 "font": "Liberation Sans",
 "axis": {"grid": false, "domainColor": "black", "tickColor": "black", "domainWidth": 1.5, "tickWidth": 1.5, "labelFont": "Liberation Sans", "titleFont": "Liberation Sans", "labelColor": "black", "titleColor": "black", "labelFlush": false, "labelOverlap": false, "labelBound": false, "titleFontWeight": "normal"}
}
}
